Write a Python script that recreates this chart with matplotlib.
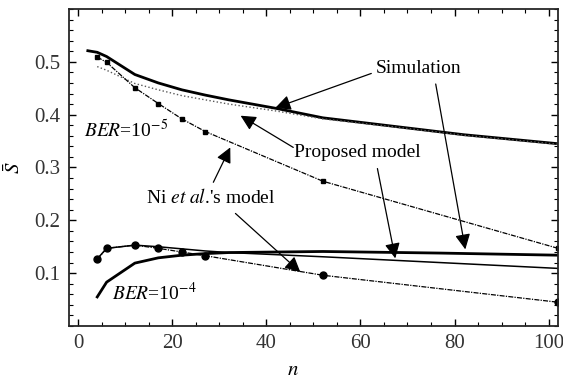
import numpy as np
import matplotlib
matplotlib.use("Agg")
import matplotlib.pyplot as plt
from matplotlib.ticker import MultipleLocator

plt.rcParams["font.family"] = ["Liberation Serif", "DejaVu Serif"]
plt.rcParams["mathtext.fontset"] = "stix"

# BER = 1e-5
n_sim5 = [2, 4, 6, 12, 17, 22, 27, 32, 42, 52, 67, 82, 102]
sim5 = [0.521, 0.518, 0.510, 0.476, 0.460, 0.447, 0.437, 0.428, 0.412, 0.394, 0.378, 0.362, 0.345]
n_prop5 = [4, 6, 12, 17, 22, 27, 32, 42, 52, 67, 82, 102]
prop5 = [0.491, 0.484, 0.459, 0.447, 0.436, 0.428, 0.420, 0.407, 0.392, 0.377, 0.361, 0.344]
n_ni = [4, 6, 12, 17, 22, 27, 52, 102]
ni5 = [0.509, 0.499, 0.451, 0.421, 0.392, 0.368, 0.274, 0.147]

# BER = 1e-4
n_sim4 = [4, 6, 12, 17, 22, 27, 32, 52, 77, 102]
sim4 = [0.055, 0.083, 0.119, 0.129, 0.134, 0.137, 0.139, 0.141, 0.138, 0.134]
n_prop4 = [4, 6, 12, 17, 22, 27, 32, 52, 77, 102]
prop4 = [0.127, 0.147, 0.153, 0.150, 0.146, 0.142, 0.139, 0.131, 0.120, 0.109]
ni4 = [0.126, 0.147, 0.153, 0.147, 0.140, 0.133, 0.096, 0.045]

fs = 15
afs = 14
fig = plt.figure(figsize=(5.63, 3.81), dpi=100)
ax = fig.add_axes([0.1226, 0.1444, 0.8684, 0.8320])

dashdot = (0, (4, 1, 1, 1))
ax.plot(n_sim5, sim5, color="k", lw=2.0)
ax.plot(n_prop5, prop5, color="0.35", lw=1.0, ls=":")
ax.plot(n_ni, ni5, color="k", lw=0.9, ls=dashdot, marker="s", ms=2.5)

ax.plot(n_sim4, sim4, color="k", lw=2.0)
ax.plot(n_prop4, prop4, color="k", lw=1.1)
ax.plot(n_ni, ni4, color="k", lw=0.9, ls=dashdot, marker="o", ms=5)

ax.set_xlim(-2, 102)
ax.set_ylim(0, 0.6)
ax.set_xticks([0, 20, 40, 60, 80, 100])
ax.set_yticks([0.1, 0.2, 0.3, 0.4, 0.5])
ax.set_yticklabels(["0.1", "0.2", "0.3", "0.4", "0.5"])
ax.xaxis.set_minor_locator(MultipleLocator(5))
ax.yaxis.set_minor_locator(MultipleLocator(0.02))
ax.tick_params(which="both", direction="in", top=True, right=True, labelsize=fs, pad=6,
               labelcolor="0.2")
ax.tick_params(which="major", length=5, width=1)
ax.tick_params(which="minor", length=3, width=0.8)
for s in ax.spines.values():
    s.set_linewidth(1.3)
    s.set_color("0.15")

ax.set_xlabel("$n$", fontsize=fs, va="center")
ax.xaxis.set_label_coords(0.458, -0.14)
ax.set_ylabel(r"$\bar{S}$", fontsize=fs, labelpad=7)

ax.text(1.1, 0.370, "$BER$=10$^{-5}$", fontsize=afs, va="center", ha="left")
ax.text(7.2, 0.062, "$BER$=10$^{-4}$", fontsize=afs, va="center", ha="left")

ap = dict(arrowstyle="-|>", mutation_scale=23, lw=0.9, color="k", shrinkA=0, shrinkB=0)
ax.text(72.3, 0.487, "Simulation", fontsize=afs, ha="center", va="center")
ax.annotate("", xy=(41.9, 0.413), xytext=(62.3, 0.478), arrowprops=ap)
ax.annotate("", xy=(82.3, 0.145), xytext=(76.0, 0.458), arrowprops=ap)

ax.text(59.4, 0.328, "Proposed model", fontsize=afs, ha="center", va="center")
ax.annotate("", xy=(34.5, 0.398), xytext=(45.7, 0.338), arrowprops=ap)
ax.annotate("", xy=(67.4, 0.128), xytext=(63.6, 0.298), arrowprops=ap)

ax.text(28.1, 0.243, r"Ni $\mathit{et\ al}$.'s model", fontsize=afs, ha="center", va="center")
ax.annotate("", xy=(32.3, 0.338), xytext=(28.7, 0.272), arrowprops=ap)
ax.annotate("", xy=(47.2, 0.102), xytext=(33.4, 0.213), arrowprops=ap)

fig.savefig("out.png", dpi=100)
